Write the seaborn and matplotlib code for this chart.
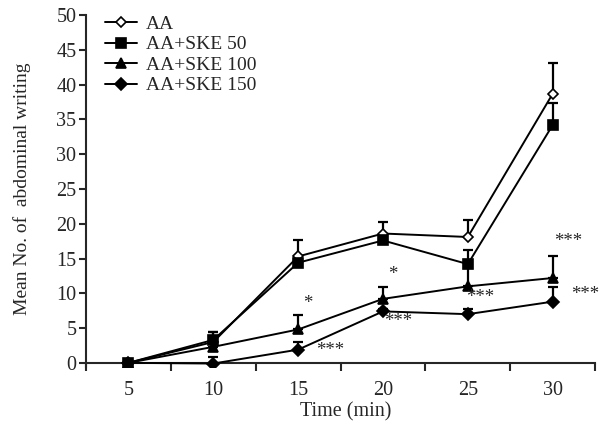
import numpy as np
import pandas as pd
import matplotlib
matplotlib.use('Agg')
import matplotlib.pyplot as plt
from matplotlib.lines import Line2D
import seaborn as sns

# data
times = ['5', '10', '15', '20', '25', '30']
aa = [0, 3.0, 15.3, 18.6, 18.1, 38.7]
aa_err = [0, 1.4, 2.4, 1.6, 2.5, 4.4]
ske50 = [0, 3.3, 14.4, 17.6, 14.2, 34.2]
ske50_err = [0, 1.2, 0.5, 0.5, 2.1, 3.2]
ske100 = [0, 2.3, 4.8, 9.2, 11.0, 12.2]
ske100_err = [0, 0.6, 2.1, 1.7, 2.6, 3.2]
ske150 = [0, -0.1, 1.9, 7.4, 7.0, 8.8]
ske150_err = [0, 1.0, 1.1, 0.3, 0.7, 2.1]

groups = ['AA', 'AA+SKE 50', 'AA+SKE 100', 'AA+SKE 150']
means = [aa, ske50, ske100, ske150]
errs = [aa_err, ske50_err, ske100_err, ske150_err]
markers = ['D', 's', '^', 'D']
msizes = [5.5, 7.5, 7.5, 6.5]
mfaces = ['white', 'black', 'black', 'black']

# significance marks (x index, y value, text)
star_x = [2.11, 2.38, 3.12, 3.18, 4.14, 5.18, 5.38]
star_y = [8.5, 1.8, 12.7, 5.9, 9.4, 17.5, 9.8]
star_txt = ['*', '***', '*', '***', '***', '***', '***']

rows = []
for g, m in zip(groups, means):
    for i, v in enumerate(m):
        rows.append({'pos': i, 'value': v, 'group': g})
df = pd.DataFrame(rows)

sns.set_style('ticks')
plt.rcParams['font.family'] = ['Liberation Serif', 'DejaVu Serif']
fs = 14.5
plt.rcParams['font.size'] = fs

fig = plt.figure(figsize=(6.06, 4.28), dpi=100)
ax = fig.add_axes([0.142, 0.1425, 0.840, 0.822])

for m, e in zip(means, errs):
    x = np.arange(len(m))
    ax.errorbar(x, m, yerr=[np.zeros(len(e)), e], fmt='none', ecolor='black',
                elinewidth=1.6, capsize=3.5, capthick=1.6, zorder=2)

sns.lineplot(data=df, x='pos', y='value', hue='group', style='group',
             palette=['black'] * 4, markers=dict(zip(groups, markers)),
             dashes=False, ax=ax, linewidth=1.4, zorder=3, legend=False)

for line, ms, mf in zip(ax.lines[-4:], msizes, mfaces):
    line.set_markersize(ms)
    line.set_markerfacecolor(mf)
    line.set_markeredgecolor('black')
    line.set_markeredgewidth(1.2)

for sx, sy, st in zip(star_x, star_y, star_txt):
    ax.text(sx, sy, st, ha='center', va='center', fontsize=13.5)

# legend
handles = [Line2D([], [], color='black', lw=1.4, marker=mk, markersize=ms,
                  markerfacecolor=mf, markeredgecolor='black', markeredgewidth=1.2)
           for mk, ms, mf in zip(markers, msizes, mfaces)]
ax.legend(handles, groups, loc='upper left', frameon=False, handlelength=1.65,
          handletextpad=0.45, labelspacing=0.15, borderaxespad=0.0,
          bbox_to_anchor=(0.022, 1.022), fontsize=14)

ax.set_xlim(-0.5, 5.5)
ax.set_ylim(-0.6, 50)
ax.set_yticks(np.arange(0, 51, 5))
ax.set_xticks(np.arange(-0.5, 5.6, 1))
ax.set_xticklabels([])
ax.set_xticks(np.arange(6), minor=True)
ax.set_xticklabels(times, minor=True)
ax.tick_params(axis='x', which='minor', length=0, pad=13)
ax.tick_params(axis='x', which='major', length=5.5, width=1.5, direction='out')
ax.tick_params(axis='y', length=5, width=1.5, direction='out', pad=2)

sns.despine(ax=ax)
ax.spines['bottom'].set_position(('data', 0))
ax.spines['left'].set_linewidth(1.5)
ax.spines['bottom'].set_linewidth(1.5)

ax.set_xlabel('Time (min)')
ax.set_ylabel('Mean No. of  abdominal writing', fontsize=14)
ax.xaxis.set_label_coords(0.511, -0.1)
ax.yaxis.set_label_coords(-0.108, 0.506)

fig.savefig('out.png', dpi=100)
